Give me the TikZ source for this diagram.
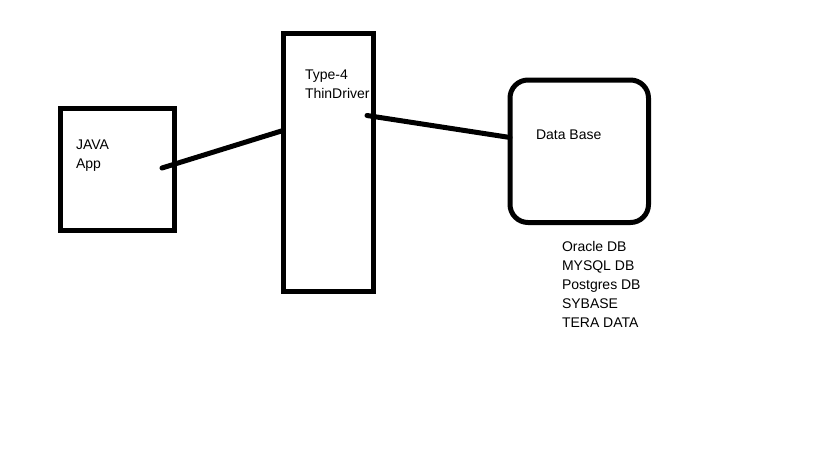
\documentclass[tikz,border=0pt]{standalone}
\usepackage{fontspec}
\setmainfont{Liberation Sans}
\begin{document}
\begin{tikzpicture}[x=1pt,y=-1pt,
  lbl/.style={inner sep=0pt, outer sep=0pt, align=left, font=\fontsize{14}{19}\selectfont},
  box/.style={draw=black, line width=5pt, inner sep=0pt, outer sep=0pt},
  conn/.style={draw=black, line width=5pt, line cap=round}]
\useasboundingbox[fill=white] (0,0) rectangle (819,460);
% texts
\node[lbl, anchor=north west] (javat) at (76,140) {JAVA\\App};
\node[lbl, anchor=north west] (thint) at (305,69.5) {Type-4\\ThinDriver};
\node[lbl, anchor=base west] (dbt) at (536,139) {Data Base};
\node[lbl, anchor=north west] (list) at (562,241) {Oracle DB\\MYSQL DB\\Postgres DB\\SYBASE\\TERA DATA};
% boxes
\node[box, minimum width=114pt, minimum height=122.5pt] (java) at (117.5,169.25) {};
\node[box, minimum width=90pt, minimum height=257.5pt] (thin) at (328,162.75) {};
\node[box, rounded corners=18pt, minimum width=138.5pt, minimum height=142.5pt] (db) at (579.25,151.25) {};
% connector end points
\coordinate (a1) at (162,168);
\coordinate (a2) at (283,130.5);
\coordinate (b1) at (367,115.5);
\coordinate (b2) at (510,137.5);
\draw[conn] (a1) -- (thin.west |- a2);
\draw[conn] (b1) -- (db.west |- b2);
\end{tikzpicture}
\end{document}
